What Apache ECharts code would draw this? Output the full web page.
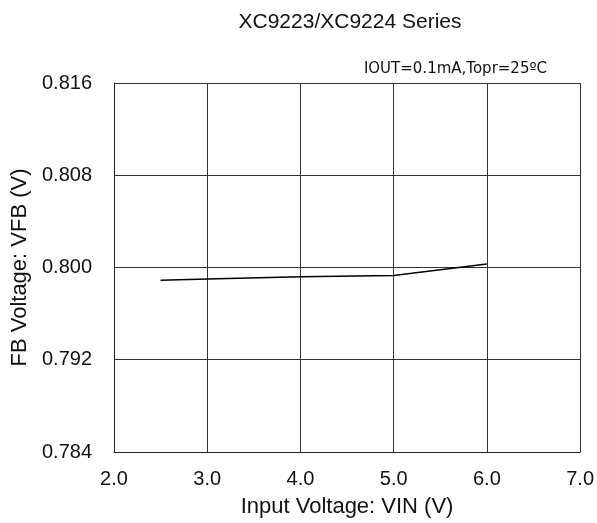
<!DOCTYPE html>
<html>
<head>
<meta charset="utf-8">
<script src="https://cdn.jsdelivr.net/npm/echarts@6/dist/echarts.min.js"></script>
<style>
  html, body { margin: 0; padding: 0; background: #fff; }
  #chart { width: 597px; height: 523px; }
</style>
</head>
<body>
<div id="chart"></div>
<script>
// data
var vin = [2.5, 3.0, 4.0, 5.0, 6.0];
var vfb = [0.7989, 0.7990, 0.7992, 0.7993, 0.8003];

var xTicks = [2.0, 3.0, 4.0, 5.0, 6.0, 7.0];
var yTicks = [0.784, 0.792, 0.800, 0.808, 0.816];

var chart = echarts.init(document.getElementById('chart'));

var font = 'Arial, "Liberation Sans", sans-serif';

chart.setOption({
    animation: false,
    backgroundColor: '#fff',
    title: [
        {
            text: 'XC9223/XC9224 Series',
            left: 345, top: 7, textAlign: 'center',
            textStyle: { fontFamily: font, fontSize: 21, fontWeight: 'normal', color: '#111' }
        },
        {
            text: 'IOUT=0.1mA,Topr=25ºC',
            right: 45, top: 57,
            textStyle: { fontFamily: '"DejaVu Sans", sans-serif', fontSize: 15, fontWeight: 'normal', color: '#111' }
        }
    ],
    grid: { left: 114, top: 83, right: 15, bottom: 69 },
    xAxis: {
        type: 'value',
        min: xTicks[0], max: xTicks[xTicks.length - 1], interval: 1,
        name: 'Input Voltage: VIN (V)',
        nameLocation: 'middle', nameGap: 44,
        nameTextStyle: { fontFamily: font, fontSize: 22, color: '#111' },
        axisLine: { lineStyle: { color: '#222', width: 1 } },
        axisTick: { show: false },
        axisLabel: {
            margin: 17, fontFamily: font, fontSize: 20, color: '#111',
            formatter: function (v) { return v.toFixed(1); }
        },
        splitLine: { show: true, lineStyle: { color: '#333', width: 1 } }
    },
    yAxis: {
        type: 'value',
        min: yTicks[0], max: yTicks[yTicks.length - 1], interval: 0.008,
        name: 'FB Voltage: VFB (V)',
        nameLocation: 'middle', nameGap: 79,
        nameTextStyle: { fontFamily: font, fontSize: 22, color: '#111' },
        axisLine: { show: true, lineStyle: { color: '#222', width: 1 } },
        axisTick: { show: false },
        axisLabel: {
            margin: 22, fontFamily: font, fontSize: 20, color: '#111',
            formatter: function (v) { return v.toFixed(3); }
        },
        splitLine: { show: true, lineStyle: { color: '#333', width: 1 } }
    },
    series: [{
        type: 'line',
        data: vin.map(function (x, i) { return [x, vfb[i]]; }),
        symbol: 'none',
        lineStyle: { color: '#000', width: 1.5 }
    }]
});
</script>
</body>
</html>
